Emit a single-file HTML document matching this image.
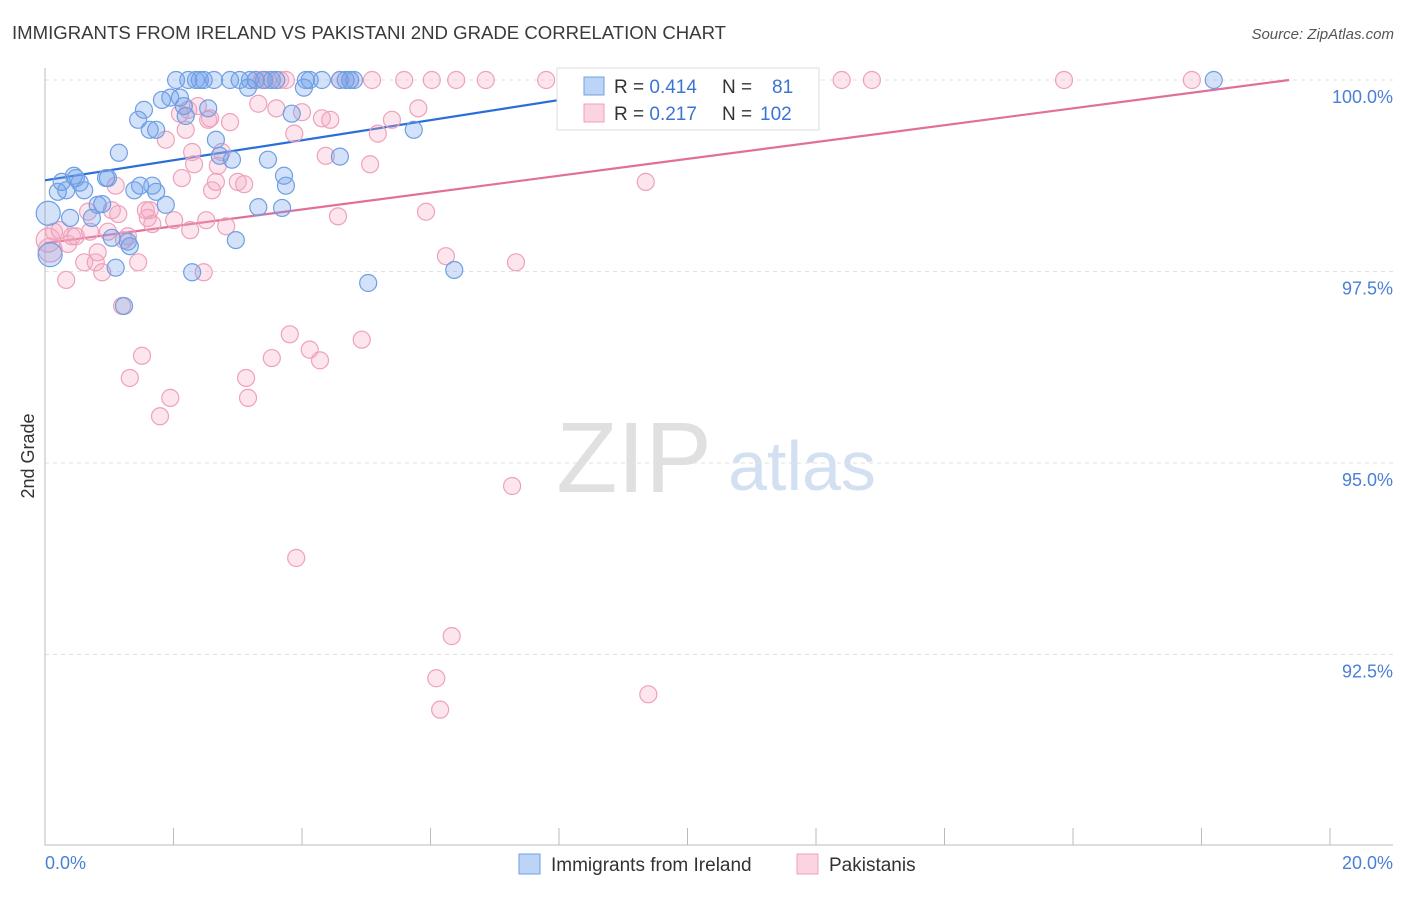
<!DOCTYPE html>
<html><head><meta charset="utf-8"><style>
body{margin:0;background:#fff;font-family:"Liberation Sans",sans-serif;}
svg text{font-family:"Liberation Sans",sans-serif;}
</style></head><body>
<svg id="chart" width="1406" height="892" xmlns="http://www.w3.org/2000/svg">
<text x="12" y="39" font-size="18.6" fill="#3a3a3a" textLength="714">IMMIGRANTS FROM IRELAND VS PAKISTANI 2ND GRADE CORRELATION CHART</text>
<text x="1394" y="39" font-size="15" fill="#555" font-style="italic" text-anchor="end">Source: ZipAtlas.com</text>
<g>
<text x="634" y="492" font-size="100" fill="#e0e0e0" font-family="Liberation Serif" text-anchor="middle">ZIP</text>
<text x="802" y="490" font-size="70" fill="#d3e0f2" text-anchor="middle">atlas</text>
</g>
<g id="grid"></g>
<g id="axes"></g>
<g id="lines"></g>
<g id="points"></g>
<text transform="translate(34,456) rotate(-90)" font-size="18" fill="#333" text-anchor="middle">2nd Grade</text>
<text x="45" y="869" font-size="18" fill="#4a7fd6">0.0%</text>
<text x="1393" y="869" font-size="18" fill="#4a7fd6" text-anchor="end">20.0%</text>
<g>
<rect x="557" y="68" width="262" height="62" fill="#fff" stroke="#ddd"/>
<rect x="584" y="77" width="20" height="18" fill="rgba(110,160,235,0.45)" stroke="#6f9fe3"/>
<rect x="584" y="104" width="20" height="18" fill="rgba(245,170,195,0.5)" stroke="#eea1bb"/>
<text x="614" y="93" font-size="19" fill="#333">R = <tspan fill="#3b74d4">0.414</tspan><tspan x="722">N = </tspan><tspan x="772" fill="#3b74d4">81</tspan></text>
<text x="614" y="120" font-size="19" fill="#333">R = <tspan fill="#3b74d4"> 0.217</tspan><tspan x="722">N = </tspan><tspan x="760" fill="#3b74d4">102</tspan></text>
</g>
<g>
<rect x="519" y="854" width="21" height="20" fill="rgba(110,160,235,0.45)" stroke="#6f9fe3"/>
<text x="551" y="871" font-size="19" fill="#333">Immigrants from Ireland</text>
<rect x="797" y="854" width="21" height="20" fill="rgba(245,170,195,0.5)" stroke="#eea1bb"/>
<text x="829" y="871" font-size="19" fill="#333">Pakistanis</text>
</g>
</svg>
<script>
const yTicks=[100,97.5,95,92.5];
const yTickLabels=["100.0%","97.5%","95.0%","92.5%"];
const xTicks=[0,2,4,6,8,10,12,14,16,18,20];
const irelandX=[0.05,0.08,0.2,0.26,0.33,0.39,0.45,0.48,0.54,0.61,0.73,0.82,0.89,0.95,0.98,1.04,1.1,1.15,1.23,1.29,1.32,1.39,1.45,1.48,1.54,1.63,1.67,1.73,1.73,1.82,1.88,1.95,2.04,2.1,2.16,2.19,2.23,2.29,2.35,2.41,2.47,2.54,2.63,2.66,2.72,2.88,2.91,2.97,3.03,3.16,3.19,3.28,3.32,3.41,3.47,3.53,3.6,3.69,3.72,3.75,3.84,4.03,4.06,4.12,4.31,4.59,4.59,4.68,4.75,4.81,5.03,5.74,6.37,18.19,8.33,10.2];
const irelandY=[98.26,97.72,98.54,98.67,98.56,98.2,98.75,98.72,98.66,98.56,98.2,98.37,98.38,98.72,98.72,97.94,97.55,99.05,97.05,97.89,97.83,98.56,99.48,98.62,99.61,99.35,98.62,99.35,98.54,99.74,98.37,99.77,100,99.77,99.66,99.53,100,97.49,100,100,100,99.63,100,99.22,99.01,100,98.96,97.91,100,99.9,100,100,98.34,100,98.96,100,100,98.33,98.75,98.62,99.56,99.9,100,100,100,99.0,100,100,100,100,97.35,99.35,97.52,100,100,100];
const pakX=[0.05,0.08,0.14,0.23,0.33,0.36,0.42,0.48,0.61,0.67,0.7,0.79,0.82,0.89,0.98,1.04,1.1,1.14,1.2,1.23,1.29,1.32,1.45,1.51,1.57,1.6,1.63,1.67,1.79,1.88,1.95,2.01,2.1,2.13,2.19,2.23,2.26,2.29,2.32,2.38,2.47,2.51,2.54,2.57,2.6,2.66,2.69,2.75,2.82,2.88,3.0,3.1,3.13,3.16,3.28,3.32,3.38,3.47,3.53,3.6,3.66,3.75,3.81,3.88,3.91,4.0,4.12,4.28,4.31,4.37,4.44,4.56,4.59,4.75,4.93,5.06,5.09,5.18,5.4,5.59,5.81,5.93,6.02,6.09,6.15,6.24,6.33,6.4,6.86,7.27,7.33,7.8,8.2,8.48,9.35,9.39,11.28,12.4,12.87,15.86,17.85];
const pakY=[97.91,97.78,98.02,98.04,97.39,97.86,97.96,97.96,97.62,98.28,98.02,97.62,97.75,97.49,98.02,98.3,98.62,98.25,97.05,97.91,97.96,96.11,97.62,96.4,98.3,98.2,98.3,98.12,95.61,99.22,95.85,98.17,99.56,98.72,99.35,99.61,98.04,99.06,98.9,99.66,97.49,98.17,99.48,99.5,98.56,98.67,98.88,99.06,98.09,99.45,98.67,98.64,96.11,95.85,100,99.69,100,100,96.37,99.63,100,100,96.68,99.3,93.76,99.58,96.48,96.34,99.5,99.01,99.48,98.22,100,100,96.61,98.9,100,99.3,99.48,100,99.63,98.28,100,92.19,91.78,97.7,92.74,100,100,94.7,97.62,100,100,100,98.67,91.98,100,100,100,100,100];
const irelandTrend=[98.69,0.131];
const pakTrend=[97.87,0.110];
const xS=v=>45+v*64.25;
const yS=v=>80+(100-v)*76.6;
const NS="http://www.w3.org/2000/svg";
function mk(tag,attrs,parent){const e=document.createElementNS(NS,tag);for(const k in attrs)e.setAttribute(k,attrs[k]);parent.appendChild(e);return e;}
const grid=document.getElementById('grid'),axes=document.getElementById('axes'),lines=document.getElementById('lines'),pts=document.getElementById('points');
yTicks.forEach((t,i)=>{
 const l=mk('line',{x1:45,x2:1393,y1:yS(t),y2:yS(t),stroke:'#e2e2e2','stroke-dasharray':'4,4'},grid);
 
 
 const tx=mk('text',{x:1393,y:yS(t)+23,'font-size':18,fill:'#4a7fd6','text-anchor':'end'},grid);
 tx.textContent=yTickLabels[i];
 
 
});
const ax=mk('path',{d:'M45,68 V845 H1393',fill:'none',stroke:'#bbb'},axes);


xTicks.forEach(t=>{
 const l=mk('line',{x1:xS(t),x2:xS(t),y1:828,y2:845,stroke:'#bbb'},axes);
 
 
});
function trend(tr,color,name){
 const x2=Math.min(20,(100-tr[0])/tr[1]);
 const l=mk('line',{x1:xS(0),y1:yS(tr[0]),x2:xS(x2),y2:yS(tr[0]+tr[1]*x2),stroke:color,'stroke-width':2.2},lines);
 
 
}
function dots(xs,ys,fill,stroke,name){
 xs.forEach((x,i)=>{
  const r=(i<2)?12:8.5;
  const c=mk('circle',{cx:xS(x),cy:yS(ys[i]),r:r,fill:fill,stroke:stroke,'stroke-width':1.2},pts);
  
  
 });
}
dots(pakX,pakY,'rgba(245,170,195,0.3)','#eea1bb','pakistani-point');
dots(irelandX,irelandY,'rgba(110,160,235,0.3)','#6f9fe3','ireland-point');
trend(irelandTrend,'#2a6fd6','ireland-trend-line');
trend(pakTrend,'#e0709a','pakistani-trend-line');
</script>
</body></html>
